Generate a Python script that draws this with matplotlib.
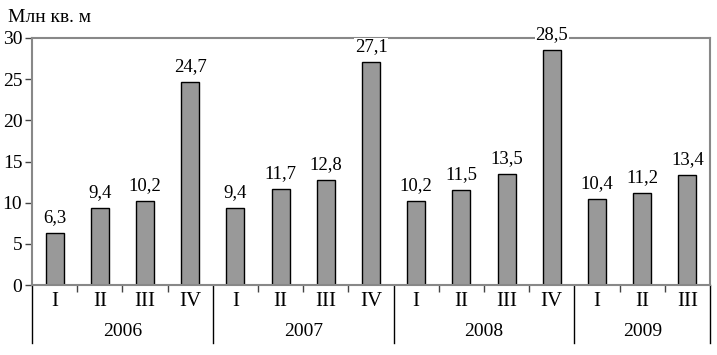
import numpy as np
import matplotlib.pyplot as plt
from matplotlib.transforms import blended_transform_factory

plt.rcParams['font.family'] = ['Liberation Serif', 'DejaVu Serif']

quarters = ['I', 'II', 'III', 'IV'] * 3 + ['I', 'II', 'III']
years = ['2006', '2007', '2008', '2009']
year_counts = [4, 4, 4, 3]
values = [6.3, 9.4, 10.2, 24.7, 9.4, 11.7, 12.8, 27.1,
          10.2, 11.5, 13.5, 28.5, 10.4, 11.2, 13.4]

fig = plt.figure(figsize=(7.17, 3.55), dpi=100)
ax = fig.add_axes([32/717, 70/355, 678/717, 247/355])

x = np.arange(len(values))
ax.bar(x, values, width=0.4, color='#999999', edgecolor='black', linewidth=1, zorder=2)

for xi, v in zip(x, values):
    ax.annotate(f'{v:.1f}'.replace('.', ','), (xi, v), xytext=(0, 5),
                textcoords='offset points', ha='center', va='bottom', fontsize=13.5,
                bbox=dict(facecolor='white', edgecolor='none', pad=0.3), zorder=5)

ax.set_xlim(-0.5, len(values) - 0.5)
ax.set_ylim(0, 30)
ax.set_yticks(range(0, 31, 5))
ax.tick_params(axis='y', labelsize=14, length=5, width=1, color='#444444', pad=2)

ax.set_xticks(x)
ax.set_xticklabels(quarters, fontsize=15)
ax.tick_params(axis='x', which='major', length=0, pad=5)
minor = [i + 0.5 for i in range(len(values) - 1) if (i + 1) % 4 != 0]
ax.set_xticks(minor, minor=True)
ax.tick_params(axis='x', which='minor', length=5, width=1, color='#444444')

for s in ax.spines.values():
    s.set_color('#888888')
    s.set_linewidth(1.5)

# year separators and labels
trans = blended_transform_factory(ax.transData, ax.transAxes)
bounds = [-0.5]
for c in year_counts:
    bounds.append(bounds[-1] + c)
for b in bounds:
    ax.plot([b, b], [0, -0.235], transform=trans, color='black', linewidth=1, clip_on=False)
for i, yr in enumerate(years):
    mid = (bounds[i] + bounds[i + 1]) / 2
    ax.text(mid, -0.19, yr, transform=trans, ha='center', va='center', fontsize=14)

fig.text(8/717, 1 - 18/355, 'Млн кв. м', ha='left', va='center', fontsize=14)

fig.savefig('out.png', dpi=100)
